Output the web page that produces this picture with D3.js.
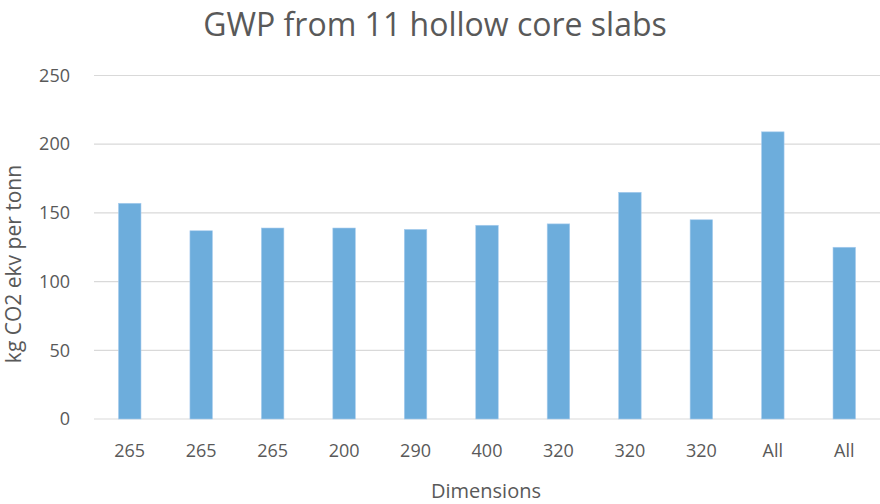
<!DOCTYPE html>
<html>
<head>
<meta charset="utf-8">
<script src="https://cdn.jsdelivr.net/npm/d3@7"></script>
<style>
  body { margin: 0; background: #fff; }
  text { font-family: "Open Sans", "Liberation Sans", sans-serif; fill: #595959; }
</style>
</head>
<body>
<div id="chart"></div>
<script>
var categories = ["265", "265", "265", "200", "290", "400", "320", "320", "320", "All", "All"];
var values = [157, 137, 139, 139, 138, 141, 142, 165, 145, 209, 125];
var yTicks = [0, 50, 100, 150, 200, 250];

var width = 880, height = 504;
var margin = {top: 75.5, right: 0, bottom: 85, left: 94};

var svg = d3.select("#chart").append("svg")
    .attr("width", width)
    .attr("height", height);

var x = d3.scaleBand()
    .domain(d3.range(categories.length))
    .range([margin.left, width - margin.right])
    .paddingInner(0.685)
    .paddingOuter(0.3425);

var y = d3.scaleLinear()
    .domain([0, 250])
    .range([height - margin.bottom, margin.top]);

// gridlines
svg.append("g")
    .selectAll("line")
    .data(yTicks)
    .join("line")
    .attr("x1", margin.left)
    .attr("x2", width - margin.right)
    .attr("y1", d => y(d))
    .attr("y2", d => y(d))
    .attr("stroke", "#d9d9d9")
    .attr("stroke-width", 1.2);

// bars
svg.append("g")
    .selectAll("rect")
    .data(values)
    .join("rect")
    .attr("x", (d, i) => x(i))
    .attr("width", x.bandwidth())
    .attr("y", d => y(d))
    .attr("height", d => y(0) - y(d))
    .attr("fill", "#6daddc")
    .attr("stroke", "#a9cdee")
    .attr("stroke-width", 0.6);

// y axis labels
var yAxis = d3.axisLeft(y).tickValues(yTicks).tickSize(0).tickPadding(24);
svg.append("g")
    .attr("transform", "translate(" + margin.left + ",0)")
    .call(yAxis)
    .call(g => g.select(".domain").remove())
    .selectAll("text")
    .style("font-size", "18px")
    .attr("fill", "#595959");

// x axis labels
var xAxis = d3.axisBottom(x).tickFormat(i => categories[i]).tickSize(0).tickPadding(25);
svg.append("g")
    .attr("transform", "translate(0," + y(0) + ")")
    .call(xAxis)
    .call(g => g.select(".domain").remove())
    .selectAll("text")
    .style("font-size", "18px")
    .attr("fill", "#595959");

// title
svg.append("text")
    .attr("x", 435)
    .attr("y", 36)
    .attr("text-anchor", "middle")
    .style("font-size", "32px")
    .text("GWP from 11 hollow core slabs");

// axis titles
svg.append("text")
    .attr("x", 486)
    .attr("y", 498)
    .attr("text-anchor", "middle")
    .style("font-size", "20px")
    .text("Dimensions");

svg.append("text")
    .attr("transform", "translate(21,264) rotate(-90)")
    .attr("text-anchor", "middle")
    .style("font-size", "21px")
    .text("kg CO2 ekv per tonn");
</script>
</body>
</html>
